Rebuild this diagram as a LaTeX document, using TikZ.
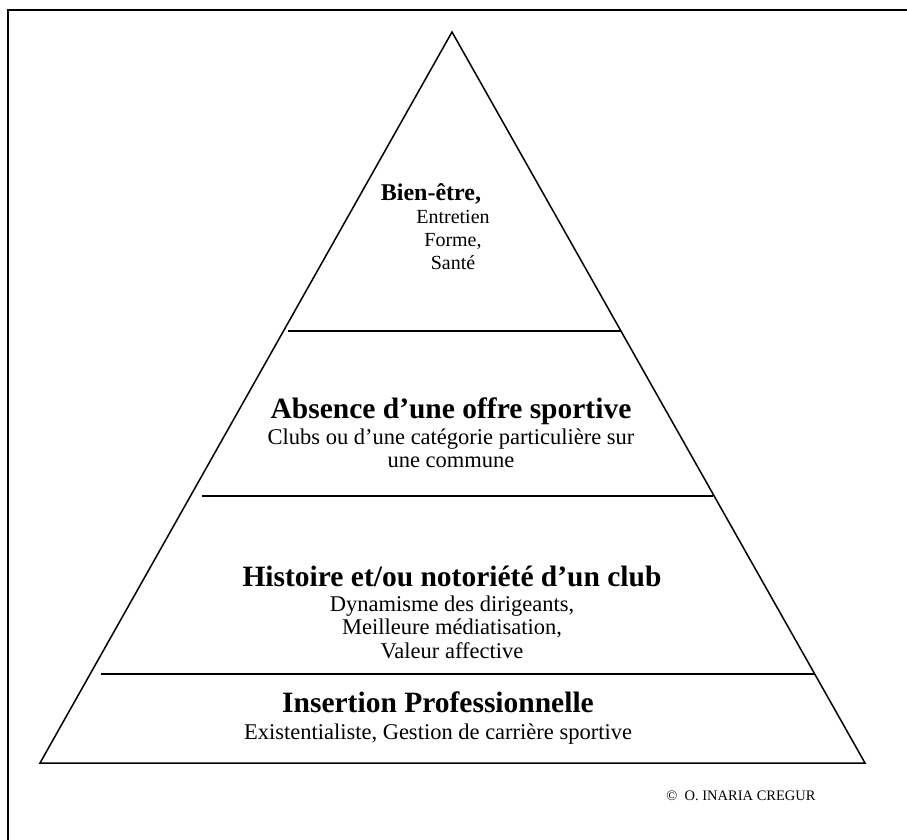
\documentclass[tikz,border=0pt]{standalone}
\usepackage{fontspec}
\setmainfont{Liberation Serif}
\begin{document}
\begin{tikzpicture}[x=1pt, y=-1pt, line width=1.5pt,
  head/.style={font=\fontsize{29.5}{32}\bfseries, anchor=base, inner sep=0pt},
  line/.style={font=\fontsize{22.5}{25}\selectfont, anchor=base, inner sep=0pt}]
  \useasboundingbox (0,0) rectangle (907,840);
  % frame, only its top and left edges lie on the page
  \draw[line width=2pt] (8,845) -- (8,10) -- (907,10);
  % pyramid and its levels
  \coordinate (apex) at (452,32);
  \coordinate (left) at (40,763);
  \coordinate (right) at (865,763);
  \draw (left) -- (apex) -- (right) -- cycle;
  \foreach \y/\xl/\xr in {331/288/621, 496/202/713, 674/101/815}
    \draw (\xl,\y) -- (\xr,\y);
  % level 4
  \node[head, font=\fontsize{24}{26}\bfseries] (well) at (431,200) {Bien-être,};
  \foreach \t/\y [count=\i] in {Entretien/223, {Forme,}/246, Santé/269}
    \node[line, font=\fontsize{20}{22}\selectfont] (well\i) at (453,\y) {\t};
  % level 3
  \node[head] (offer) at (451,418) {Absence d’une offre sportive};
  \foreach \t/\y [count=\i] in {Clubs ou d’une catégorie particulière sur/444,
                                une commune/467}
    \node[line] (offer\i) at (451,\y) {\t};
  % level 2
  \node[head] (club) at (452,586) {Histoire et/ou notoriété d’un club};
  \foreach \t/\y [count=\i] in {{Dynamisme des dirigeants,}/611,
                                {Meilleure médiatisation,}/634,
                                Valeur affective/658}
    \node[line] (club\i) at (452,\y) {\t};
  % level 1
  \node[head] (job) at (438,712) {Insertion Professionnelle};
  \node[line] (job1) at (438,739) {Existentialiste, Gestion de carrière sportive};
  % mark
  \node[line, font=\fontsize{14.5}{16}\selectfont] (mark) at (741,800)
    {©\ \ O. INARIA CREGUR};
\end{tikzpicture}
\end{document}
